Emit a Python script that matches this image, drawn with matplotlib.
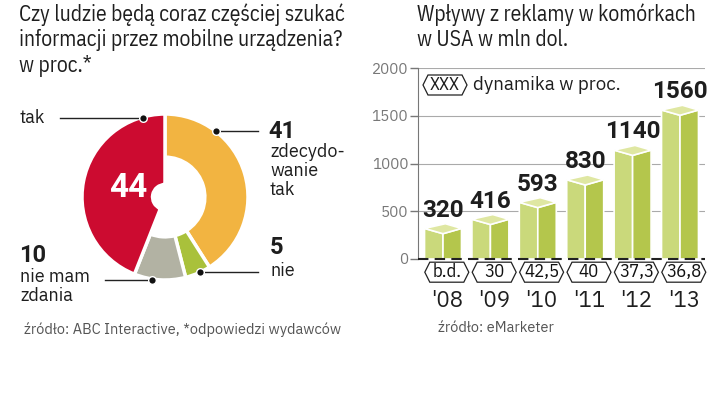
import numpy as np
import matplotlib
matplotlib.use("Agg")
import matplotlib.pyplot as plt
from matplotlib.path import Path

# donut data (clockwise from top)
pie_labels = ["zdecydowanie tak", "nie", "nie mam zdania", "tak"]
pie_values = [41, 5, 10, 44]
pie_colors = ["#f2b441", "#a9c13b", "#b2b2a3", "#cc0b30"]

# bar data
years = ["'08", "'09", "'10", "'11", "'12", "'13"]
revenue = [320, 416, 593, 830, 1140, 1560]
growth = ["b.d.", "30", "42,5", "40", "37,3", "36,8"]

W, H = 720, 395
fig = plt.figure(figsize=(7.2, 3.95), dpi=100)
fig.patch.set_facecolor("white")

COND = ["IBM Plex Sans Condensed", "Roboto Condensed", "Archivo Narrow", "DejaVu Sans"]
REG = ["IBM Plex Sans", "Roboto", "DejaVu Sans"]
BOLD = ["Roboto", "DejaVu Sans"]
GRAY = "#555555"
INK = "#1e1e1e"


def fx(x):
    return x / W


def fy(y):
    return 1 - y / H


def hexbox(x0, y0, width, height, mutation_size, hw=22, hh=10, tip=5):
    cx = x0 + width / 2
    cy = y0 + height / 2
    verts = [(cx - hw, cy), (cx - hw + tip, cy + hh), (cx + hw - tip, cy + hh),
             (cx + hw, cy), (cx + hw - tip, cy - hh), (cx - hw + tip, cy - hh),
             (cx - hw, cy)]
    codes = [Path.MOVETO] + [Path.LINETO] * 5 + [Path.CLOSEPOLY]
    return Path(verts, codes)


# titles
fig.text(fx(19), fy(3), "Czy ludzie będą coraz częściej szukać\ninformacji przez mobilne urządzenia?\nw proc.*",
         family=COND, fontsize=15.5, va="top", ha="left", linespacing=1.22, color=INK)
fig.text(fx(417), fy(3), "Wpływy z reklamy w komórkach\nw USA w mln dol.",
         family=COND, fontsize=15.5, va="top", ha="left", linespacing=1.22, color=INK)

# ---- donut ----
cx, cy, R = 165, 197, 83
axp = fig.add_axes([fx(cx - R), fy(cy + R), 2 * R / W, 2 * R / H])
wedges, _ = axp.pie(pie_values, colors=pie_colors, startangle=90, counterclock=False,
                    radius=1, wedgeprops=dict(width=0.52, edgecolor="white", linewidth=2.5))
wedges[3].set_width(0.85)
axp.set_xlim(-1, 1)
axp.set_ylim(-1, 1)
axp.set_aspect("equal")
axp.axis("off")


def pd(x, y):
    return (x - cx) / R, (cy - y) / R


# leader lines: (dot_x, dot_y, line_end_x)
leaders = [(143, 118, 60), (216, 131, 258), (200, 272, 258), (152, 280, 105)]
for dx, dy, ex in leaders:
    a = pd(dx, dy)
    b = pd(ex, dy)
    axp.plot([a[0], b[0]], [a[1], b[1]], color="#222222", lw=1, clip_on=False)
    axp.plot(a[0], a[1], "o", color="#111111", ms=5.5, mec="white", mew=1, clip_on=False, zorder=5)

fig.text(fx(128), fy(188), str(pie_values[3]), family=BOLD, color="white", fontsize=24,
         fontweight="bold", ha="center", va="center")
fig.text(fx(20), fy(118), "tak", family=REG, fontsize=13, ha="left", va="center", color=INK)
fig.text(fx(268), fy(131), str(pie_values[0]), family=BOLD, fontsize=17, fontweight="bold",
         ha="left", va="center", color=INK)
fig.text(fx(270), fy(143), "zdecydo-\nwanie\ntak", family=REG, fontsize=13, ha="left", va="top",
         linespacing=1.08, color=INK)
fig.text(fx(270), fy(247), str(pie_values[1]), family=BOLD, fontsize=17, fontweight="bold",
         ha="left", va="center", color=INK)
fig.text(fx(270), fy(271), "nie", family=REG, fontsize=13, ha="left", va="center", color=INK)
fig.text(fx(19), fy(256), str(pie_values[2]), family=BOLD, fontsize=17, fontweight="bold",
         ha="left", va="center", color=INK)
fig.text(fx(20), fy(268), "nie mam\nzdania", family=REG, fontsize=13, ha="left", va="top",
         linespacing=1.1, color=INK)

fig.text(fx(24), fy(330), "źródło: ABC Interactive, *odpowiedzi wydawców", family=REG,
         fontsize=10.5, color=GRAY, ha="left", va="center")

# ---- bars ----
x0_px, unit = 443, 47.4
left_px, right_px = 418, 705
ax = fig.add_axes([fx(left_px), fy(259), (right_px - left_px) / W, (259 - 68) / H])
ax.set_xlim((left_px - x0_px) / unit, (right_px - x0_px) / unit)
ax.set_ylim(0, 2000)

x = np.arange(len(revenue))
w = 0.39
d = 55
for xi, v in zip(x, revenue):
    ax.fill([xi - w, xi - w, xi, xi], [0, v, v - d, 0], color="#cad97b", ec="white", lw=1.2, zorder=3)
    ax.fill([xi, xi, xi + w, xi + w], [0, v - d, v, 0], color="#b4c64c", ec="white", lw=1.2, zorder=3)
    ax.fill([xi - w, xi, xi + w, xi + 0.05], [v, v - d, v, v + d * 0.9], color="#dfe7a2",
            ec="white", lw=1.2, zorder=4)
    ax.text(xi, v + d + 15, str(v), family=BOLD, fontsize=17.5, fontweight="bold", ha="center",
            va="bottom", color=INK, zorder=6)

ax.set_yticks([0, 500, 1000, 1500, 2000])
ax.set_yticklabels(["0", "500", "1000", "1500", "2000"], family=REG)
ax.tick_params(axis="y", length=6, width=1, colors="#777777", labelsize=11, pad=1)
ax.set_xticks([])
ax.grid(axis="y", color="#aaaaaa", lw=0.8, zorder=0)
for s in ["top", "right", "bottom"]:
    ax.spines[s].set_visible(False)
ax.spines["left"].set_color("#777777")
ax.axhline(0, color="#222222", lw=1.5, ls=(0, (5, 3)), zorder=5, clip_on=False)

for xi, g, yr in zip(x, growth, years):
    ax.annotate(g, xy=(xi + 0.08, 0), xytext=(0, -9.5), textcoords="offset points",
                ha="center", va="center", fontsize=13.5, family=COND, color="#111111",
                bbox=dict(boxstyle=hexbox, fc="white", ec="#222222", lw=0.9),
                annotation_clip=False)
    ax.annotate(yr, xy=(xi + 0.08, 0), xytext=(0, -30), textcoords="offset points",
                ha="center", va="center", fontsize=16, family=REG, color=INK,
                annotation_clip=False)

fig.text(fx(445), fy(85), "XXX", fontsize=13, family=COND, ha="center", va="center", color=INK,
         bbox=dict(boxstyle=hexbox, fc="white", ec="#222222", lw=0.9))
fig.text(fx(473), fy(85), "dynamika w proc.", family=REG, fontsize=13.5, ha="left", va="center",
         color=INK)

fig.text(fx(438), fy(328), "źródło: eMarketer", family=REG, fontsize=10.5, color=GRAY,
         ha="left", va="center")

fig.savefig("out.png", dpi=100, facecolor="white")
